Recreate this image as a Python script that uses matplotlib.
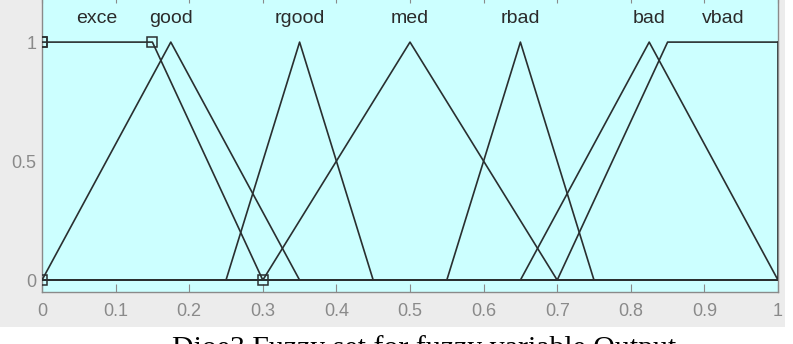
import matplotlib.pyplot as plt
from matplotlib.patches import Rectangle

# membership functions of the output variable (trapezoid params a, b, c, d)
names = ["exce", "good", "rgood", "med", "rbad", "bad", "vbad"]
params = [
    (0.0, 0.0, 0.15, 0.3),
    (0.0, 0.175, 0.175, 0.35),
    (0.25, 0.35, 0.35, 0.45),
    (0.3, 0.5, 0.5, 0.7),
    (0.55, 0.65, 0.65, 0.75),
    (0.65, 0.825, 0.825, 1.0),
    (0.7, 0.85, 1.0, 1.0),
]
selected = 0  # "exce" is the highlighted set
x_ticks = [0, 0.1, 0.2, 0.3, 0.4, 0.5, 0.6, 0.7, 0.8, 0.9, 1]
y_ticks = [0, 0.5, 1]
caption = "Dioe3 Fuzzy set for fuzzy variable Output"

line_col = "#2a2f30"
tick_col = "#8a8a8a"

fig = plt.figure(figsize=(7.93, 3.44), dpi=100)
fig.patch.set_facecolor("white")
fig.patches.append(Rectangle((0, 1 - 327 / 344), 785 / 793, 1, transform=fig.transFigure,
                             facecolor="#ececec", edgecolor="none", zorder=-10))

ax = fig.add_axes([42 / 793, 1 - 292 / 344, 736 / 793, 297.5 / 344])
ax.set_facecolor("#ccffff")

for i, (name, (a, b, c, d)) in enumerate(zip(names, params)):
    xs = [0, a, b, c, d, 1]
    ys = [0, 0 if a < b else 1, 1, 1, 0 if c < d else 1, 0 if d < 1 else 1]
    if a == 0 and a == b:
        ys[0] = ys[1] = 1
    ax.plot(xs, ys, color=line_col, lw=1.2, zorder=3)
    ax.plot([0, 1], [0, 0], color=line_col, lw=1.2, zorder=3)
    if i == selected:
        ax.plot([a, b, c, d], [1, 1, 1, 0] if a == b else [0, 1, 1, 0], "s",
                mfc="none", mec=line_col, ms=7, mew=1.1, zorder=4)
        ax.plot([0], [0], "s", mfc="none", mec=line_col, ms=7, mew=1.1, zorder=4)
    ax.text((b + c) / 2, 1.10, name, ha="center", va="center",
            fontsize=14, color="#2b2b2b", family="Liberation Sans")

ax.set_xlim(0, 1)
ax.set_ylim(-0.05, 1.2)
ax.set_xticks(x_ticks)
ax.set_xticklabels([f"{t:g}" for t in x_ticks])
ax.set_yticks(y_ticks)
ax.set_yticklabels([f"{t:g}" for t in y_ticks])
ax.tick_params(direction="in", length=6, color=tick_col, labelcolor=tick_col,
               labelsize=13, top=True, right=False)
ax.tick_params(axis="y", length=0, pad=4)
ax.tick_params(axis="x", pad=8)
for lab in ax.get_xticklabels() + ax.get_yticklabels():
    lab.set_family("Liberation Sans")
for s in ax.spines.values():
    s.set_color(tick_col)
    s.set_linewidth(1.0)

fig.text(424 / 793, 1 - 335 / 344, caption, ha="center", va="top",
         fontsize=21.5, family="Liberation Serif", color="black")

fig.savefig("out.png", dpi=100, facecolor=fig.get_facecolor())
